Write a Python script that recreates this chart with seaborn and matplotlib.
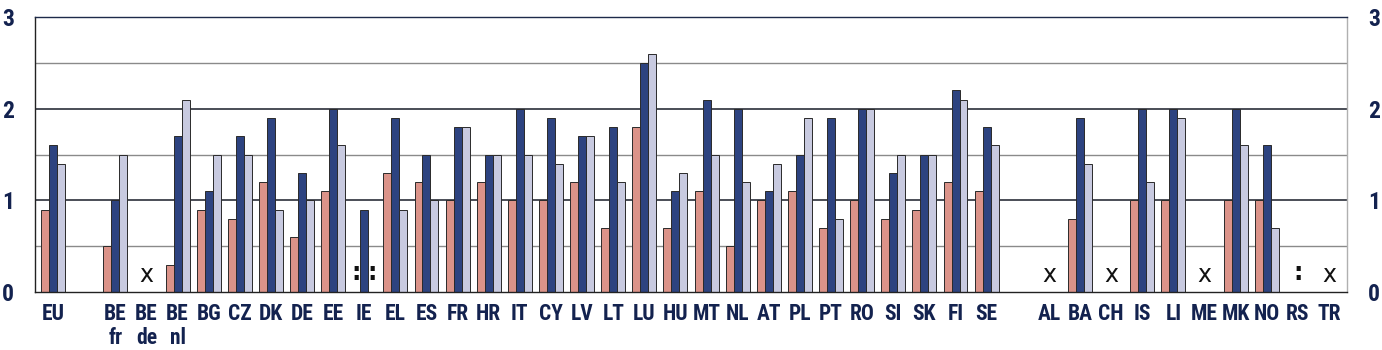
import numpy as np
import pandas as pd
import matplotlib
matplotlib.use("Agg")
import matplotlib.pyplot as plt
import seaborn as sns

nan = np.nan

# Category slots along the x axis (blank slots separate the country groups)
slots = ["EU", "_gap1", "BE_fr", "BE_de", "BE_nl", "BG", "CZ", "DK", "DE", "EE",
         "IE", "EL", "ES", "FR", "HR", "IT", "CY", "LV", "LT", "LU", "HU", "MT",
         "NL", "AT", "PL", "PT", "RO", "SI", "SK", "FI", "SE", "_gap2",
         "AL", "BA", "CH", "IS", "LI", "ME", "MK", "NO", "RS", "TR"]

tick_labels = ["EU", "", "BE\nfr", "BE\nde", "BE\nnl", "BG", "CZ", "DK", "DE", "EE",
               "IE", "EL", "ES", "FR", "HR", "IT", "CY", "LV", "LT", "LU", "HU", "MT",
               "NL", "AT", "PL", "PT", "RO", "SI", "SK", "FI", "SE", "",
               "AL", "BA", "CH", "IS", "LI", "ME", "MK", "NO", "RS", "TR"]

series_a = [0.9, nan, 0.5, nan, 0.3, 0.9, 0.8, 1.2, 0.6, 1.1,
            nan, 1.3, 1.2, 1.0, 1.2, 1.0, 1.0, 1.2, 0.7, 1.8, 0.7, 1.1,
            0.5, 1.0, 1.1, 0.7, 1.0, 0.8, 0.9, 1.2, 1.1, nan,
            nan, 0.8, nan, 1.0, 1.0, nan, 1.0, 1.0, nan, nan]

series_b = [1.6, nan, 1.0, nan, 1.7, 1.1, 1.7, 1.9, 1.3, 2.0,
            0.9, 1.9, 1.5, 1.8, 1.5, 2.0, 1.9, 1.7, 1.8, 2.5, 1.1, 2.1,
            2.0, 1.1, 1.5, 1.9, 2.0, 1.3, 1.5, 2.2, 1.8, nan,
            nan, 1.9, nan, 2.0, 2.0, nan, 2.0, 1.6, nan, nan]

series_c = [1.4, nan, 1.5, nan, 2.1, 1.5, 1.5, 0.9, 1.0, 1.6,
            nan, 0.9, 1.0, 1.8, 1.5, 1.5, 1.4, 1.7, 1.2, 2.6, 1.3, 1.5,
            1.2, 1.4, 1.9, 0.8, 2.0, 1.5, 1.5, 2.1, 1.6, nan,
            nan, 1.4, nan, 1.2, 1.9, nan, 1.6, 0.7, nan, nan]

series_names = ["A", "B", "C"]
series_colors = ["#E8897C", "#1F3C8E", "#C4C7E4"]

# "x" = not applicable (whole group), ":" = not available (per series or group)
not_applicable = ["BE_de", "AL", "CH", "ME", "TR"]
not_available = [("IE", "A"), ("IE", "C"), ("RS", None)]

y_ticks = [0, 1, 2, 3]
grid_major = [1, 2, 3]
grid_minor = [0.5, 1.5, 2.5]

df = pd.DataFrame({
    "slot": slots * 3,
    "series": sum([[n] * len(slots) for n in series_names], []),
    "value": series_a + series_b + series_c,
}).dropna()

text_color = "#13224F"
plt.rcParams["font.family"] = ["Roboto Condensed", "Liberation Sans", "DejaVu Sans"]

fig = plt.figure(figsize=(13.82, 3.5), dpi=100)
ax = fig.add_axes([35 / 1382, 58 / 350, 1312 / 1382, 275 / 350])

group_width = 0.77
sns.barplot(data=df, x="slot", y="value", hue="series", order=slots,
            hue_order=series_names, palette=series_colors, width=group_width,
            gap=0, dodge=True, edgecolor="#2a2a2a", linewidth=0.7,
            legend=False, ax=ax, zorder=3)

for y in grid_minor:
    ax.axhline(y, color="#8a8a8a", lw=1.0, zorder=1)
for y in grid_major:
    ax.axhline(y, color="#2b2f3a", lw=1.2, zorder=1)

bar_w = group_width / 3
offsets = {n: (i - 1) * bar_w for i, n in enumerate(series_names)}
for code in not_applicable:
    ax.text(slots.index(code), 0.19, "x", ha="center", va="center",
            fontsize=17, color="#111111", family="DejaVu Sans", zorder=4)
for code, ser in not_available:
    xpos = slots.index(code) + (offsets[ser] if ser else 0)
    ax.text(xpos, 0.21, ":", ha="center", va="center", fontsize=17,
            fontweight="bold", color="#111111", family="DejaVu Sans", zorder=4)

ax.set_xlim(-0.58, len(slots) - 1 + 0.58)
ax.set_ylim(0, 3)
ax.set_yticks(y_ticks)
ax.set_yticklabels([str(t) for t in y_ticks])
ax.set_xticks(range(len(slots)))
ax.set_xticklabels(tick_labels, linespacing=1.1)
ax.set_xlabel("")
ax.set_ylabel("")

ax.tick_params(axis="y", length=0, pad=15, labelsize=17, labelcolor=text_color,
               left=False, right=False, labelleft=True, labelright=True)
ax.tick_params(axis="x", length=0, pad=8, labelsize=15.5, labelcolor=text_color)
for lbl in ax.get_xticklabels() + ax.get_yticklabels():
    lbl.set_fontweight("bold")
for lbl in ax.get_xticklabels():
    lbl.set_verticalalignment("top")

ax.set_facecolor("white")
ax.spines["left"].set_color("#222222")
ax.spines["bottom"].set_color("#222222")
ax.spines["top"].set_color("#1d2a4a")
ax.spines["right"].set_color("#b0b0b0")
for s in ax.spines.values():
    s.set_linewidth(1.0)
    s.set_zorder(5)

fig.savefig("out.png", dpi=100, facecolor="white")
